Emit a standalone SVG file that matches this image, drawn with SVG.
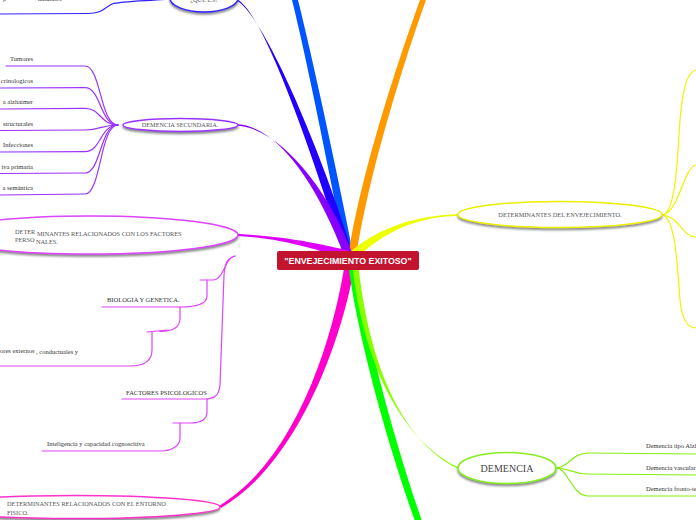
<svg xmlns="http://www.w3.org/2000/svg" width="696" height="520" viewBox="0 0 696 520">
<style>
  .t{font-family:"Liberation Serif","Times New Roman",serif;font-size:6.5px;fill:#333}
  .et{font-family:"Liberation Serif","Times New Roman",serif;font-size:6.3px;fill:#555}
  .node{fill:#fff;stroke-width:1.5;filter:url(#sh)}
  .sub{fill:none;stroke-width:1.2;stroke-linecap:round}
  .pu{stroke:#9a33ff}
  .mg{stroke:#dd44ff}
  .ye{stroke:#f2f200}
  .gr{stroke:#88ee11}
  .bl{stroke:#3322ff}
</style>
<defs>
  <filter id="sh" x="-10%" y="-30%" width="120%" height="180%">
    <feDropShadow dx="0" dy="2" stdDeviation="1" flood-color="#555" flood-opacity="0.7"/>
  </filter>
</defs>
<rect width="696" height="520" fill="#fff"/>

<g id="connectors">
  <!-- main tapered branches -->
  <path fill="#0055ff" d="M292,0 C307,60 331,180 346,258 L354,258 C339,180 313,60 298,0 Z"/>
  <path fill="#2200ff" d="M237,-0.8 C265,14 314,160 345,258 L354,258 C325,160 265,16.5 237,0.8 Z"/>
  <path fill="#ff9900" d="M420,0 C402,50 361,170 348,258 L356,258 C369,170 408,50 426,0 Z"/>
  <path fill="#8800ff" d="M238,124.3 C280,127.3 320,190 345,258 L354,258 C330,190 280,128.7 238,125.7 Z"/>
  <path fill="#dd00ff" d="M238,234 C290,237 320,244 350,251 L350,259 C320,252 290,239 238,236 Z"/>
  <path fill="#eeff00" d="M458,214.3 C410,215.3 373,232 350,252 L356,259 C377,238 410,216.7 458,215.7 Z"/>
  <path fill="#ff00cc" d="M219,506 C299,458 335,330 345,262 L355,262 C345,330 301,462 221,508 Z"/>
  <path fill="#00ff00" d="M348,262 C356,330 386,440 416,524 L423,524 C394,440 364,330 356,262 Z"/>
  <path fill="#88ff00" d="M458,467.3 C400,439.3 362,360 352,262 L358,262 C368,360 400,440.7 458,468.7 Z"/>

  <!-- ¿QUE ES? child -->
  <path class="sub bl" d="M170,-1 C150,1 122,1 112,4 C104,8 102,13.5 88,13.5 L0,14"/>

  <!-- DEMENCIA SECUNDARIA children -->
  <path class="sub pu" d="M6,66 L85,66 C101,66 100,125 118,125"/>
  <path class="sub pu" d="M0,88 L85,87.7 C101,87.7 100,125 118,125"/>
  <path class="sub pu" d="M0,109 L85,108.3 C101,108.3 100,125 118,125"/>
  <path class="sub pu" d="M0,130.5 L85,130 C101,130 100,125 118,125"/>
  <path class="sub pu" d="M0,152 L85,151.7 C101,151.7 100,125 118,125"/>
  <path class="sub pu" d="M0,173.5 L85,173 C101,173 100,125 118,125"/>
  <path class="sub pu" d="M0,195 L85,194 C101,194 100,125 118,125"/>

  <!-- FACTORES PERSONALES children -->
  <path class="sub mg" d="M235,256 C225,257 224,280 213,280 L200,280"/>
  <path class="sub mg" d="M207,280 L207,296 C207,303 198,307 180,307 L102,307"/>
  <path class="sub mg" d="M167,330 L147,332 M180,307 L180,318 C180,327 174,331 160,331.5"/>
  <path class="sub mg" d="M152,332 L152,350 C152,360 145,366 130,366 L0,366"/>
  <path class="sub mg" d="M235,256 C228,258 225,262 224,275 L220,385 C219,395 215,399 205,399 L122,399"/>
  <path class="sub mg" d="M207,399 L207,412 C207,420 200,423 190,423 L173,423"/>
  <path class="sub mg" d="M180,423 L180,438 C180,446 172,451 160,451 L42,451"/>

  <!-- DETERMINANTES DEL ENVEJECIMIENTO children -->
  <path class="sub ye" d="M663,215 C675,210 677,170 680,120 C683,85 688,72 696,70"/>
  <path class="sub ye" d="M663,215 C680,210 683,168 696,165"/>
  <path class="sub ye" d="M663,215 C680,217 682,237 696,237"/>
  <path class="sub ye" d="M663,215 C675,220 677,260 680,300 C682,320 688,328 696,328"/>

  <!-- DEMENCIA children -->
  <path class="sub gr" d="M556,468 C568,468 572,453 588,453 L696,454"/>
  <path class="sub gr" d="M556,468 C570,468 572,474 588,474 L696,475"/>
  <path class="sub gr" d="M556,468 C568,468 572,496 588,496 L696,496"/>
</g>

<g id="root">
  <rect x="277" y="251" width="142" height="19" rx="2" fill="#c2142f"/>
  <text x="348" y="263.6" text-anchor="middle" font-family="Liberation Sans, Arial, sans-serif" font-weight="bold" font-size="8.8" fill="#fff">"ENVEJECIMIENTO EXITOSO"</text>
</g>

<g id="que-es">
  <ellipse class="node" cx="204" cy="-2" rx="34" ry="14" stroke="#3322ff"/>
  <text class="et" x="204" y="2" text-anchor="middle" font-size="8">¿QUE ES?</text>
</g>
<g id="que-es-child">
  <text class="t" x="3" y="0.5">p</text>
  <text class="t" x="38" y="0.5">naturales</text>
</g>

<g id="demencia-secundaria">
  <ellipse class="node" cx="180.5" cy="125" rx="57.5" ry="6.5" stroke="#9933ff"/>
  <text class="et" x="180" y="127.3" text-anchor="middle">DEMENCIA SECUNDARIA.</text>
</g>
<g id="ds-tumores"><text class="t" x="33" y="61" text-anchor="end">Tumores</text></g>
<g id="ds-endocrinologicos"><text class="t" x="33" y="83" text-anchor="end">crinologicos</text></g>
<g id="ds-alzhaimer"><text class="t" x="33" y="104" text-anchor="end">a alzhaimer</text></g>
<g id="ds-estructurales"><text class="t" x="33" y="125.5" text-anchor="end">structurales</text></g>
<g id="ds-infecciones"><text class="t" x="33" y="147" text-anchor="end">Infecciones</text></g>
<g id="ds-primaria"><text class="t" x="33" y="168.5" text-anchor="end">iva primaria</text></g>
<g id="ds-semantica"><text class="t" x="33" y="190" text-anchor="end">a semántica</text></g>

<g id="factores-personales">
  <ellipse class="node" cx="90" cy="235" rx="148" ry="19" stroke="#dd44ff"/>
  <text class="et"><tspan x="15" y="233.5">DETER</tspan><tspan x="37" y="235.5">MINANTES RELACIONADOS CON LOS FACTORES</tspan><tspan x="15" y="241.5">PERSO</tspan><tspan x="36" y="243.5">NALES.</tspan></text>
</g>
<g id="fp-biologia"><text class="t" x="107" y="302" font-size="6.3">BIOLOGIA Y GENETICA.</text></g>
<g id="fp-externos"><text class="t"><tspan x="0" y="352.5">ores externos</tspan><tspan x="36" y="354">, conductuales y</tspan></text></g>
<g id="fp-psicologicos"><text class="t" x="126" y="395" font-size="6.3">FACTORES PSICOLOGICOS</text></g>
<g id="fp-inteligencia"><text class="t" x="47" y="446" font-size="6.8" fill="#222">Inteligencia y capacidad cognoscitiva</text></g>

<g id="entorno-fisico">
  <ellipse class="node" cx="75" cy="507" rx="145" ry="11.5" stroke="#ff33cc"/>
  <text class="et"><tspan x="7" y="506">DETERMINANTES RELACIONADOS CON EL ENTORNO</tspan><tspan x="7" y="514.5">FISICO.</tspan></text>
</g>

<g id="determinantes-envejecimiento">
  <ellipse class="node" cx="560" cy="214.5" rx="102" ry="13" stroke="#eeee00"/>
  <text class="et" x="560" y="217" text-anchor="middle" font-size="6.4">DETERMINANTES DEL ENVEJECIMIENTO.</text>
</g>

<g id="demencia">
  <ellipse class="node" cx="507" cy="468" rx="49" ry="15.5" stroke="#88ee22"/>
  <text x="507" y="471.5" text-anchor="middle" font-family="Liberation Serif, Times New Roman, serif" font-size="10" fill="#444">DEMENCIA</text>
</g>
<g id="dem-alzheimer"><text class="t" x="646" y="448">Demencia tipo Alzheimer</text></g>
<g id="dem-vascular"><text class="t" x="646" y="469.5">Demencia vascular</text></g>
<g id="dem-fronto"><text class="t" x="646" y="490.5">Demencia fronto-temporal</text></g>
</svg>
